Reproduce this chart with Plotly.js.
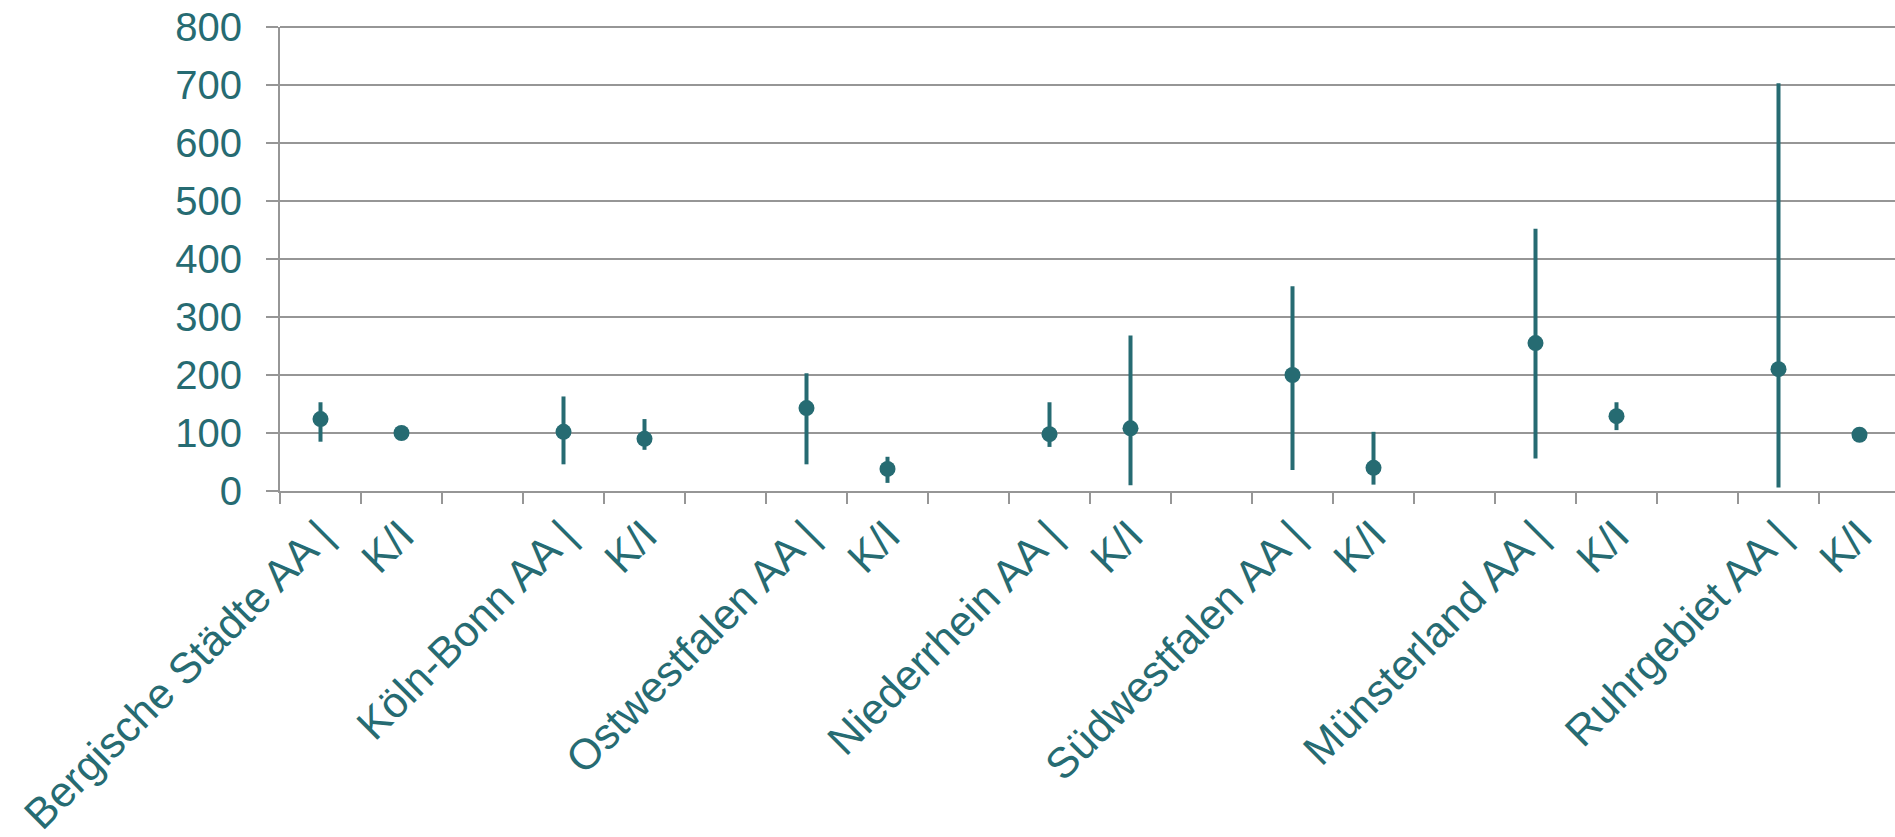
<!DOCTYPE html>
<html>
<head>
<meta charset="utf-8">
<script src="https://cdn.plot.ly/plotly-3.0.1.min.js"></script>
<style>html,body{margin:0;padding:0;background:#fff;}#chart{width:1895px;height:837px;}</style>
</head>
<body>
<div id="chart"></div>
<script>
// Category labels ("" = empty spacer slot between regions)
const categories = [
  "Bergische Städte AA |", "K/I", "",
  "Köln-Bonn AA |", "K/I", "",
  "Ostwestfalen AA |", "K/I", "",
  "Niederrhein AA |", "K/I", "",
  "Südwestfalen AA |", "K/I", "",
  "Münsterland AA |", "K/I", "",
  "Ruhrgebiet AA |", "K/I"
];
// Central values
const values = [124, 100, null, 102, 90, null, 143, 38, null, 98, 108, null, 200, 40, null, 255, 129, null, 210, 97];
// Upper and lower bounds of the ranges
const upper = [153, 100, null, 163, 124, null, 203, 59, null, 153, 268, null, 353, 102, null, 452, 153, null, 703, 97];
const lower = [85, 100, null, 46, 71, null, 46, 14, null, 76, 10, null, 36, 11, null, 56, 105, null, 6, 97];
const yTicks = [0, 100, 200, 300, 400, 500, 600, 700, 800];

const teal = "#266B72";
const gray = "#969696";
const xs = categories.map((c, i) => i);
const errPlus = values.map((v, i) => v === null ? null : upper[i] - v);
const errMinus = values.map((v, i) => v === null ? null : v - lower[i]);
const boundaries = categories.map((c, i) => i - 0.5).concat([categories.length - 0.5]);
const yMax = yTicks[yTicks.length - 1];

const trace = {
  x: xs, y: values, type: "scatter", mode: "markers",
  marker: {color: teal, size: 16},
  error_y: {type: "data", symmetric: false, array: errPlus, arrayminus: errMinus,
            color: teal, thickness: 4, width: 0},
  showlegend: false, hoverinfo: "skip"
};
const tickTrace = {x: [0], y: [null], xaxis: "x2", type: "scatter", mode: "markers", showlegend: false, hoverinfo: "skip"};

const yFont = {family: "Liberation Sans, Arial, sans-serif", size: 40, color: teal};
const xFont = {family: "Liberation Sans, Arial, sans-serif", size: 43, color: teal};
const xr = [-0.5, -0.5 + 1615 / 81];
const layout = {
  width: 1895, height: 837,
  margin: {l: 280, r: 0, t: 27, b: 346},
  paper_bgcolor: "#fff", plot_bgcolor: "#fff",
  font: yFont,
  xaxis: {
    type: "linear", range: xr, tickmode: "array", tickvals: xs, ticktext: categories,
    tickangle: -45, ticks: "", showgrid: false, zeroline: false,
    showline: true, linecolor: gray, linewidth: 2, tickfont: xFont, fixedrange: true
  },
  xaxis2: {
    type: "linear", range: xr, overlaying: "x", anchor: "y", side: "bottom",
    tickmode: "array", tickvals: boundaries, ticktext: boundaries.map(() => ""),
    ticks: "outside", ticklen: 12, tickwidth: 2, tickcolor: gray,
    showgrid: false, zeroline: false, showline: false, fixedrange: true
  },
  yaxis: {
    range: [0, yMax], tickmode: "array", tickvals: yTicks, ticktext: yTicks.map(String),
    ticks: "outside", ticklen: 12, tickwidth: 2, tickcolor: gray,
    showgrid: true, gridcolor: gray, gridwidth: 2, zeroline: false,
    showline: true, linecolor: gray, linewidth: 2, tickfont: yFont,
    ticklabelstandoff: 16, fixedrange: true
  },
  shapes: [{type: "line", xref: "paper", yref: "paper", x0: 0, x1: 1, y0: 1, y1: 1,
            line: {color: gray, width: 2}, layer: "below"}]
};
Plotly.newPlot("chart", [trace, tickTrace], layout, {displayModeBar: false, staticPlot: true});
</script>
</body>
</html>
